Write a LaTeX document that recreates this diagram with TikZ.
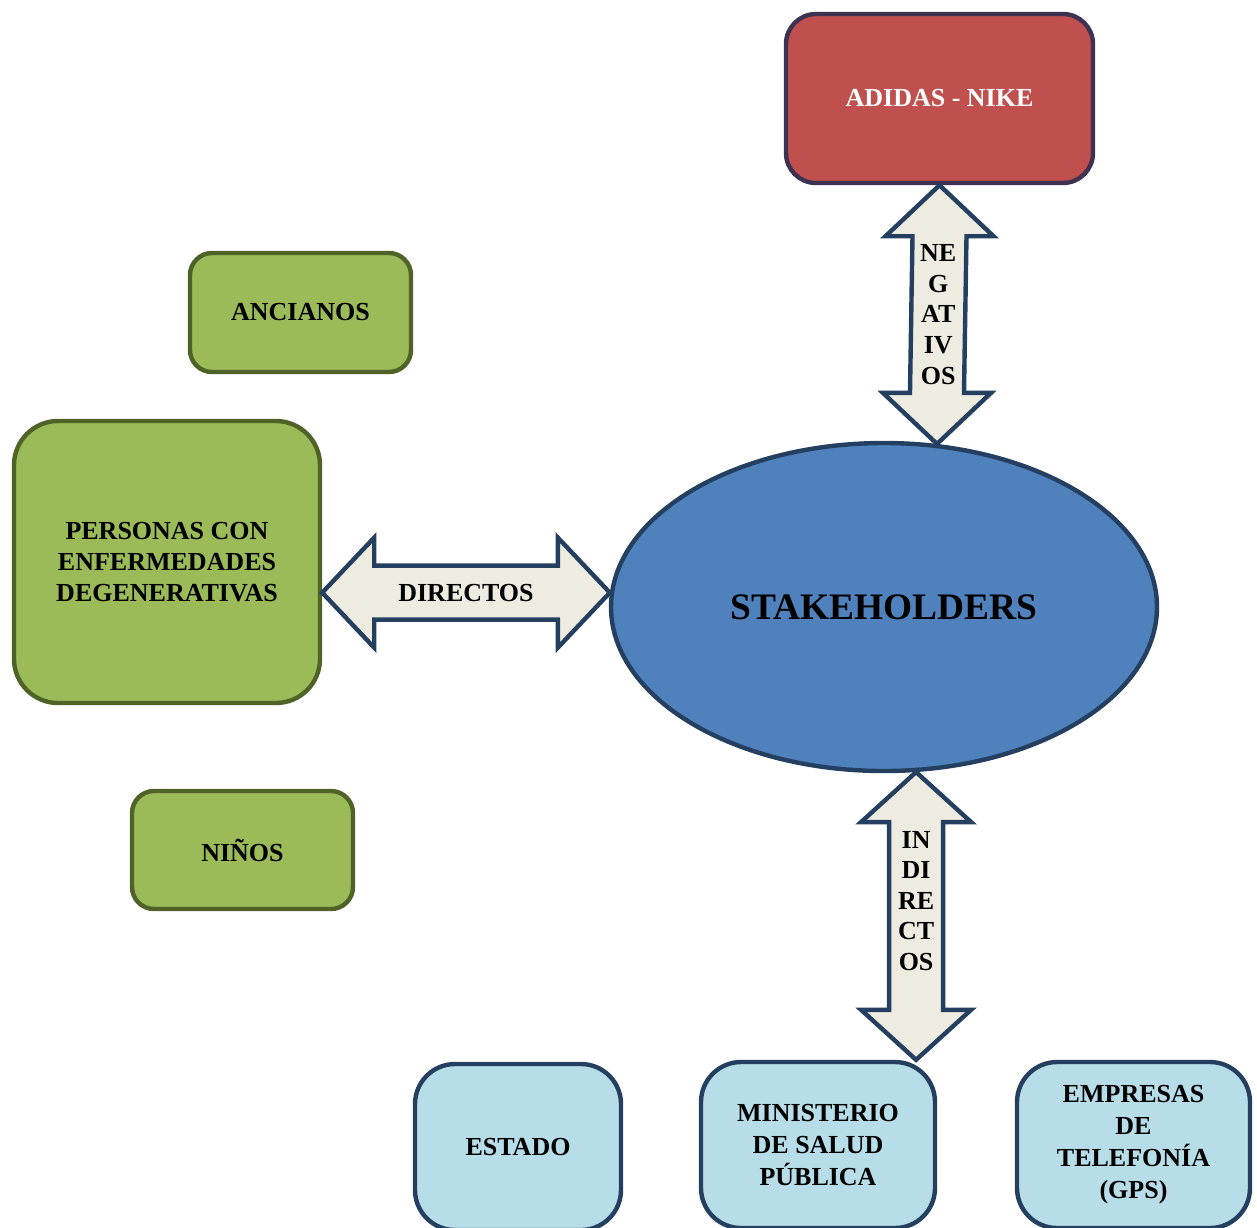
\documentclass[tikz,border=0pt]{standalone}
\usepackage{fontspec}
\setmainfont{Liberation Serif}
\usetikzlibrary{shapes,calc}

\definecolor{leafgreen}{HTML}{9BBB59}
\definecolor{olivedark}{HTML}{4F6228}
\definecolor{brickred}{HTML}{C0504D}
\definecolor{plumdark}{HTML}{3F3151}
\definecolor{steelblue}{HTML}{4F81BD}
\definecolor{navyline}{HTML}{243F60}
\definecolor{paleblue}{HTML}{B7DDE8}
\definecolor{creamfill}{HTML}{EEECE1}

\begin{document}
\begin{tikzpicture}[x=0.5pt, y=-0.5pt,
    box/.style={line width=2.2pt, align=center, inner sep=0pt,
        font=\fontsize{13}{15.3}\selectfont\bfseries},
    greenbox/.style={box, draw=olivedark, fill=leafgreen},
    bluebox/.style={box, draw=navyline, fill=paleblue, rounded corners=20pt,
        minimum height=83pt, font=\fontsize{13}{16}\selectfont\bfseries},
    bigarrow/.style={draw=navyline, fill=creamfill, line width=2.2pt, line join=miter},
    arrowtext/.style={align=center, inner sep=0pt, font=\fontsize{13}{15.3}\selectfont\bfseries}]

    \useasboundingbox (0,0) rectangle (1257,1227);
    \clip (0,0) rectangle (1257,1227);

    % Central actor
    \node[ellipse, draw=navyline, fill=steelblue, line width=2.2pt, inner sep=0pt,
          minimum width=273pt, minimum height=164pt,
          font=\fontsize{18.7}{22}\selectfont\bfseries] (stake) at (884,607) {STAKEHOLDERS};

    % Negative stakeholder
    \node[box, draw=plumdark, fill=brickred, text=white, rounded corners=15pt,
          minimum width=153.5pt, minimum height=84.5pt] (adidas) at (939.5,98.5) {ADIDAS - NIKE};

    % Direct stakeholders
    \node[greenbox, rounded corners=11pt, minimum width=110.5pt, minimum height=59.5pt] (anc) at (300.5,312.5) {ANCIANOS};
    \node[greenbox, rounded corners=22pt, minimum width=153pt, minimum height=141pt] (pers) at (167,562) {PERSONAS CON\\ENFERMEDADES\\DEGENERATIVAS};
    \node[greenbox, rounded corners=11pt, minimum width=110.5pt, minimum height=59pt] (ninos) at (242.5,850) {NIÑOS};

    % Indirect stakeholders
    \node[bluebox, minimum width=103pt] (estado) at (518,1147) {ESTADO};
    \node[bluebox, minimum width=117pt] (minis) at (818,1145) {MINISTERIO\\DE SALUD\\PÚBLICA};
    \node[bluebox, minimum width=116.5pt] (empr) at (1133.5,1145) {EMPRESAS\\DE\\TELEFONÍA\\(GPS)};

    % Arrow ends
    \coordinate (negtop) at (adidas.south);
    \coordinate (negbot) at (stake.72);
    \coordinate (dirleft) at (pers.east |- stake.177);
    \coordinate (dirright) at (stake.177);
    \coordinate (indtop) at (stake.-79);
    \coordinate (indbot) at (indtop |- minis.north);

    % Negativos
    \draw[bigarrow] (negtop) -- ++(54,51) -- ++(-27,0) -- ($(negbot)+(27,-51)$) -- ++(27,0)
        -- (negbot) -- ++(-54,-51) -- ++(27,0) -- ($(negtop)+(-27,51)$) -- ++(-27,0) -- cycle;
    \node[arrowtext] (neg) at ($(negtop)!0.5!(negbot)$) {NE\\G\\AT\\IV\\OS};

    % Directos
    \draw[bigarrow] (dirleft) -- ++(52,-55) -- ++(0,28) -- ($(dirright)+(-52,-27)$) -- ++(0,-28)
        -- (dirright) -- ++(-52,55) -- ++(0,-28) -- ($(dirleft)+(52,27)$) -- ++(0,28) -- cycle;
    \node[arrowtext] (dir) at ($(dirleft)!0.5!(dirright)$) {DIRECTOS};

    % Indirectos
    \draw[bigarrow] (indtop) -- ++(55,50) -- ++(-28,0) -- ($(indbot)+(27,-50)$) -- ++(28,0)
        -- (indbot) -- ++(-55,-50) -- ++(28,0) -- ($(indtop)+(-27,50)$) -- ++(-28,0) -- cycle;
    \node[arrowtext] (ind) at ($(indtop)!0.5!(indbot)+(0,-15)$) {IN\\DI\\RE\\CT\\OS};
\end{tikzpicture}
\end{document}
